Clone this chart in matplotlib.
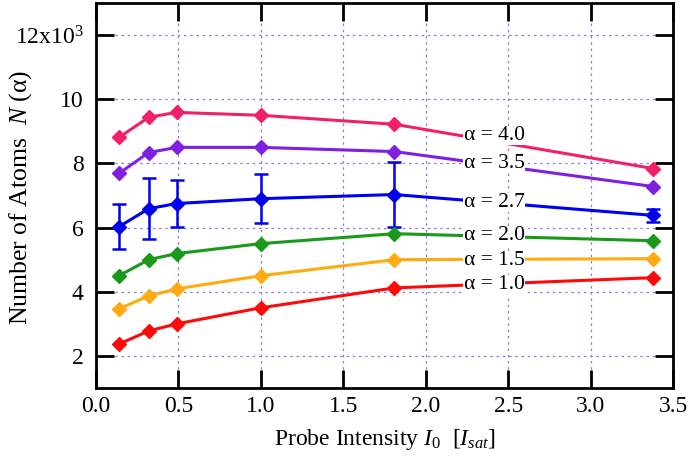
import matplotlib as ml
ml.use("Agg")
import matplotlib.pyplot as plt

ml.rcParams.update({
    'font.family': 'serif',
    'font.serif': ['Liberation Serif'],
    'mathtext.fontset': 'custom',
    'mathtext.rm': 'Liberation Serif',
    'mathtext.it': 'Liberation Serif:italic',
})

# probe intensity in units of I_sat
intensity = [0.14, 0.32, 0.49, 1.0, 1.81, 3.38]

# number of atoms (x10^3) for each alpha
n_a40 = [8.81, 9.44, 9.59, 9.50, 9.22, 7.84]
n_a35 = [7.69, 8.34, 8.50, 8.50, 8.37, 7.28]
n_a27 = [6.03, 6.59, 6.75, 6.90, 7.03, 6.38]
n_a27_err = [0.70, 0.95, 0.72, 0.77, 1.00, 0.20]
n_a20 = [4.50, 5.00, 5.19, 5.50, 5.81, 5.59]
n_a15 = [3.47, 3.87, 4.09, 4.50, 5.00, 5.03]
n_a10 = [2.37, 2.78, 3.00, 3.50, 4.12, 4.44]

labels = ['4.0', '3.5', '2.7', '2.0', '1.5', '1.0']
label_y = [8.87, 8.00, 6.78, 5.75, 4.97, 4.22]
series = [n_a40, n_a35, n_a27, n_a20, n_a15, n_a10]
colors = ['#f0206a', '#7f1fdf', '#0000f0', '#1a991a', '#ffaa10', '#ff0a0a']

y_ticks = [2, 4, 6, 8, 10, 12]
y_tick_labels = ['2', '4', '6', '8', '10', '12x10$^3$']

fig = plt.figure(figsize=(6.89, 4.71), dpi=100)
ax = fig.add_axes([96 / 689, 1 - 388 / 471, 577 / 689, 385 / 471])

for name, vals, col in zip(labels, series, colors):
    if name == '2.7':
        ax.errorbar(intensity, vals, yerr=n_a27_err, color=col, lw=2.2,
                    marker='D', ms=7, capsize=5, capthick=1.8, elinewidth=1.8, zorder=3)
    else:
        ax.plot(intensity, vals, color=col, lw=2.2, marker='D', ms=7, zorder=3)

for name, ly in zip(labels, label_y):
    ax.text(2.23, ly, 'α = ' + name, fontsize=15.5, va='center', ha='left',
            bbox=dict(facecolor='white', edgecolor='none', pad=0.3), zorder=4)

ax.set_xlim(0, 3.5)
ax.set_ylim(1, 13)
ax.set_xticks([0.0, 0.5, 1.0, 1.5, 2.0, 2.5, 3.0, 3.5])
ax.set_xticklabels(['0.0', '0.5', '1.0', '1.5', '2.0', '2.5', '3.0', '3.5'])
ax.set_yticks(y_ticks)
ax.set_yticklabels(y_tick_labels)
ax.tick_params(direction='in', length=13, width=2, labelsize=17,
               top=True, right=True)
ax.tick_params(axis='x', pad=6)
ax.tick_params(axis='y', pad=9)
ax.grid(True, color='#8080e0', linestyle=(0, (2, 3)), lw=0.9)
for s in ax.spines.values():
    s.set_linewidth(2)

ax.set_xlabel(r'Probe Intensity $I_0$  [$I_{sat}$]', fontsize=17, va='center')
ax.xaxis.set_label_coords(0.5, -0.135)
ax.set_ylabel('Number of Atoms  $N$ (α)', fontsize=18.5, va='center')
ax.yaxis.set_label_coords(-0.131, 0.496)

fig.savefig('out.png', dpi=100)
